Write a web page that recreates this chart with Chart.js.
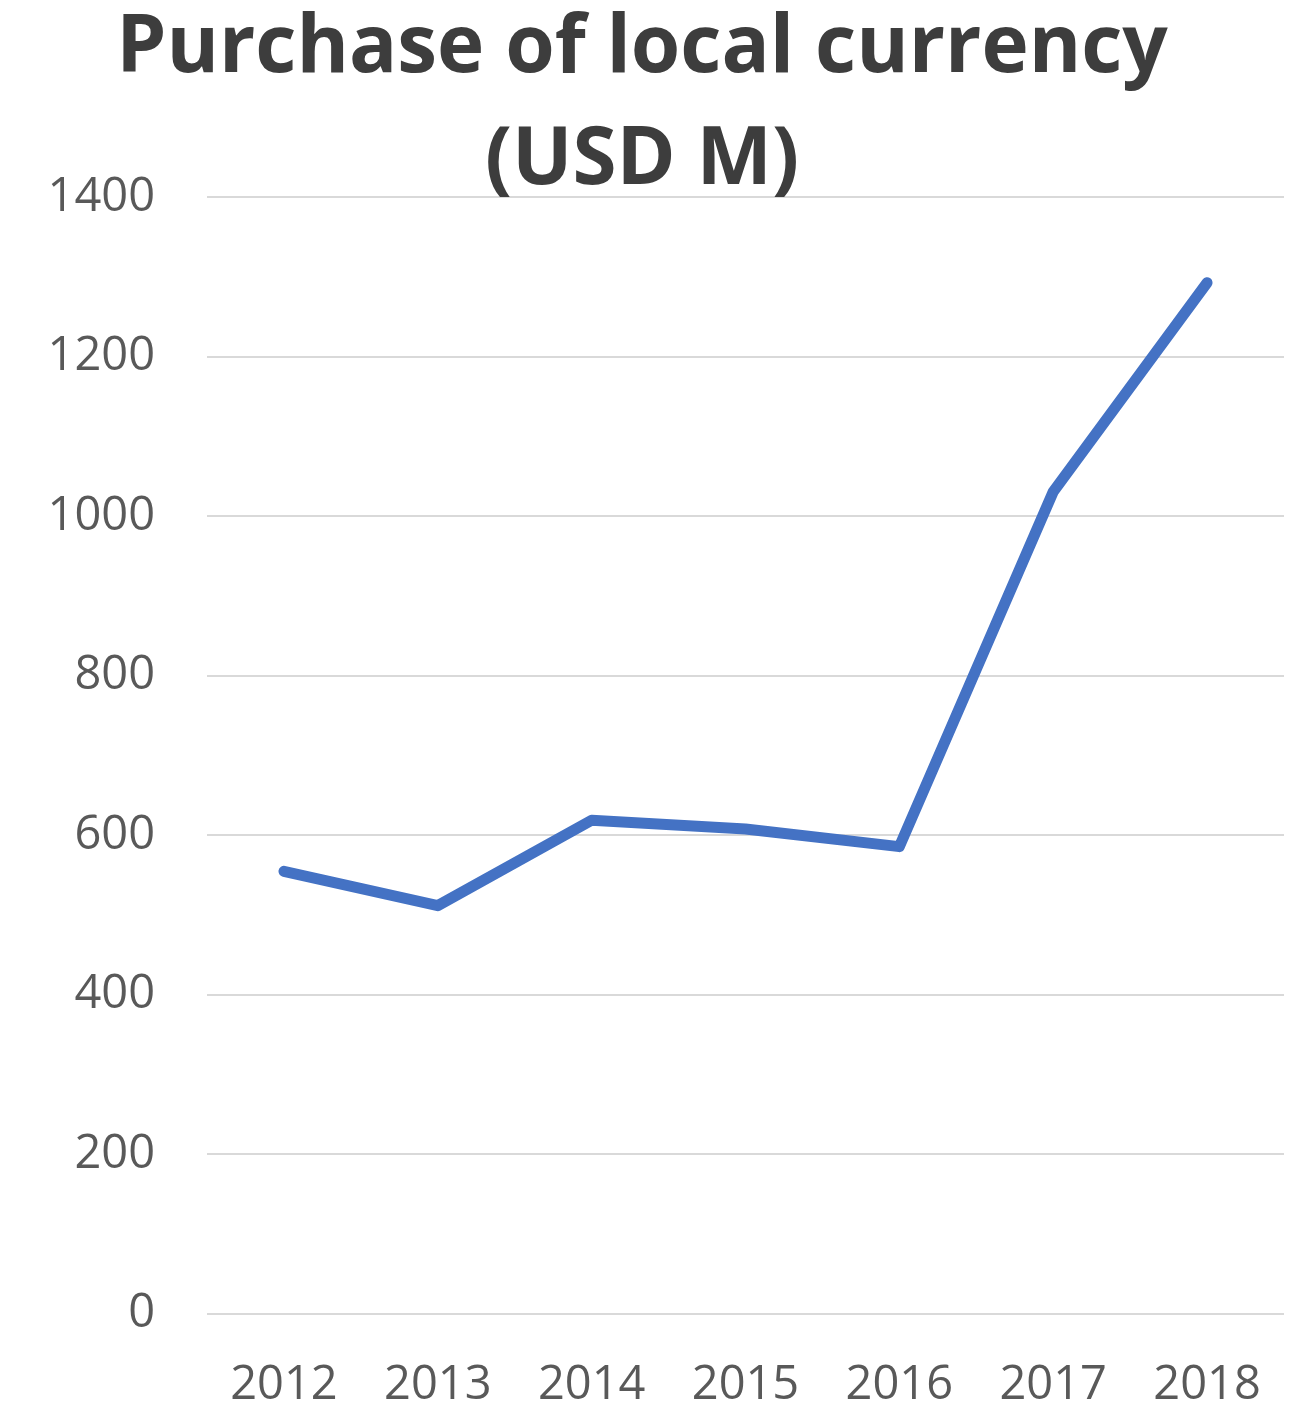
<!DOCTYPE html>
<html>
<head>
<meta charset="utf-8">
<title>Purchase of local currency (USD M)</title>
<script src="https://cdn.jsdelivr.net/npm/chart.js@4/dist/chart.umd.min.js"></script>
<style>
  html, body { margin: 0; padding: 0; background: #fff; }
  #wrap { width: 1306px; height: 1411px; }
</style>
</head>
<body>
<div id="wrap"><canvas id="purchaseChart" width="1306" height="1411"></canvas></div>
<script>
const years = ['2012', '2013', '2014', '2015', '2016', '2017', '2018'];
const purchases = [555, 512, 619, 608, 586, 1031, 1293];
const titleLines = ['Purchase of local currency', '(USD M)'];

const tickFont = { family: "'Open Sans', sans-serif", size: 47 };

new Chart(document.getElementById('purchaseChart'), {
  type: 'line',
  data: {
    labels: years,
    datasets: [{
      data: purchases,
      borderColor: '#4472C4',
      borderWidth: 11,
      borderCapStyle: 'round',
      borderJoinStyle: 'round',
      pointRadius: 0,
      fill: false,
      tension: 0
    }]
  },
  options: {
    responsive: false,
    animation: false,
    layout: { padding: { left: 0, right: 22, top: 0, bottom: 0 } },
    plugins: {
      legend: { display: false },
      tooltip: { enabled: false },
      title: {
        display: true,
        text: titleLines,
        color: '#3d3d3d',
        font: { family: "'Open Sans', sans-serif", size: 80, weight: 'bold', lineHeight: 1.39 },
        padding: { top: -6, bottom: -19 }
      }
    },
    scales: {
      x: {
        offset: true,
        grid: { display: false, drawTicks: false },
        border: { display: false },
        ticks: { color: '#595959', font: tickFont, padding: 43, maxRotation: 0 },
        afterFit: s => { s.height = 97; }
      },
      y: {
        min: 0,
        max: 1400,
        ticks: {
          stepSize: 200,
          color: '#595959',
          font: tickFont,
          padding: 52,
          callback: v => String(v)
        },
        grid: { color: '#d9d9d9', lineWidth: 2, drawTicks: false },
        border: { display: false },
        afterFit: s => { s.width = 207; }
      }
    }
  }
});
</script>
</body>
</html>
